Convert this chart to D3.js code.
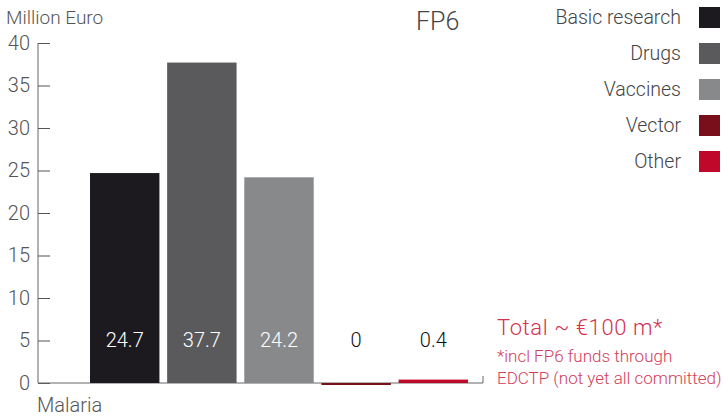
<!DOCTYPE html>
<html>
<head>
<meta charset="utf-8">
<script src="https://cdn.jsdelivr.net/npm/d3@7"></script>
<style>
  body { margin: 0; background: #fff; }
  svg text { font-family: Roboto, "Liberation Sans", sans-serif; font-weight: 300; }
</style>
</head>
<body>
<div id="chart"></div>
<script>
// data
let series = ["Basic research", "Drugs", "Vaccines", "Vector", "Other"];
let values = [24.7, 37.7, 24.2, 0, 0.4];
let colors = ["#1c1a1f", "#5a5a5c", "#88898b", "#7a0f1c", "#c0092a"];
let labelColors = ["#fff", "#fff", "#fff", "#111", "#111"];
let yTicks = [0, 5, 10, 15, 20, 25, 30, 35, 40];
let notes = ["*incl FP6 funds through", "EDCTP (not yet all committed)"];

let w = 723, h = 417;

let svg = d3.select("#chart")
	.append("svg")
	.attr("width", w)
	.attr("height", h);

let y = d3.scaleLinear().domain([0, 40]).range([383, 43]);
let x = d3.scaleBand().domain(series).range([90, 468]).paddingInner(0.1);

// y axis
let yAxis = d3.axisRight(y)
	.tickValues(yTicks)
	.tickSize(12)
	.tickFormat(d3.format("d"));

let ax = svg.append("g")
	.attr("transform", "translate(38,0)")
	.call(yAxis);
ax.select(".domain").attr("stroke", "#666").attr("d", "M0,43V383");
ax.selectAll(".tick line").attr("stroke", "#555");
ax.selectAll(".tick text")
	.attr("x", -8)
	.attr("text-anchor", "end")
	.attr("fill", "#555")
	.attr("font-size", 20);

// baseline
svg.append("path")
	.attr("d", "M38," + y(0) + "H483V" + (y(0) - 7))
	.attr("fill", "none")
	.attr("stroke", "#666")
	.attr("stroke-width", 1);

// bars
svg.selectAll("rect.bar")
	.data(values)
	.enter().append("rect")
	.attr("class", "bar")
	.attr("x", (d, i) => x(series[i]))
	.attr("width", x.bandwidth())
	.attr("y", d => d > 0 ? y(d) : y(0))
	.attr("height", d => d > 0 ? y(0) - y(d) : 2)
	.attr("fill", (d, i) => colors[i]);

svg.selectAll("text.val")
	.data(values)
	.enter().append("text")
	.attr("class", "val")
	.attr("x", (d, i) => x(series[i]) + x.bandwidth() / 2)
	.attr("y", 347)
	.attr("text-anchor", "middle")
	.attr("font-size", 20)
	.attr("fill", (d, i) => labelColors[i])
	.text(d => d);

// titles
svg.append("text").attr("x", 6).attr("y", 24)
	.attr("font-size", 19).attr("fill", "#555").text("Million Euro");
svg.append("text").attr("x", 416).attr("y", 30)
	.attr("font-size", 25).attr("fill", "#444").text("FP6");
svg.append("text").attr("x", 37).attr("y", 412)
	.attr("font-size", 20).attr("fill", "#555").text("Malaria");

// legend
let leg = svg.selectAll("g.leg")
	.data(series)
	.enter().append("g")
	.attr("class", "leg")
	.attr("transform", (d, i) => "translate(0," + (17 + i * 36) + ")");
leg.append("rect")
	.attr("x", 699).attr("y", -10)
	.attr("width", 21).attr("height", 21)
	.attr("fill", (d, i) => colors[i]);
leg.append("text")
	.attr("x", 681).attr("y", 7)
	.attr("text-anchor", "end")
	.attr("font-size", 19.5)
	.attr("fill", "#444")
	.text(d => d);

// annotation
svg.append("text").attr("x", 497).attr("y", 335)
	.attr("font-size", 22).attr("letter-spacing", 0.6)
	.attr("fill", "#d2334f").text("Total ~ €100 m*");
svg.selectAll("text.note")
	.data(notes)
	.enter().append("text")
	.attr("class", "note")
	.attr("x", 497)
	.attr("y", (d, i) => 362 + i * 22)
	.attr("font-size", 17)
	.attr("fill", "#d2415a")
	.text(d => d);
</script>
</body>
</html>
